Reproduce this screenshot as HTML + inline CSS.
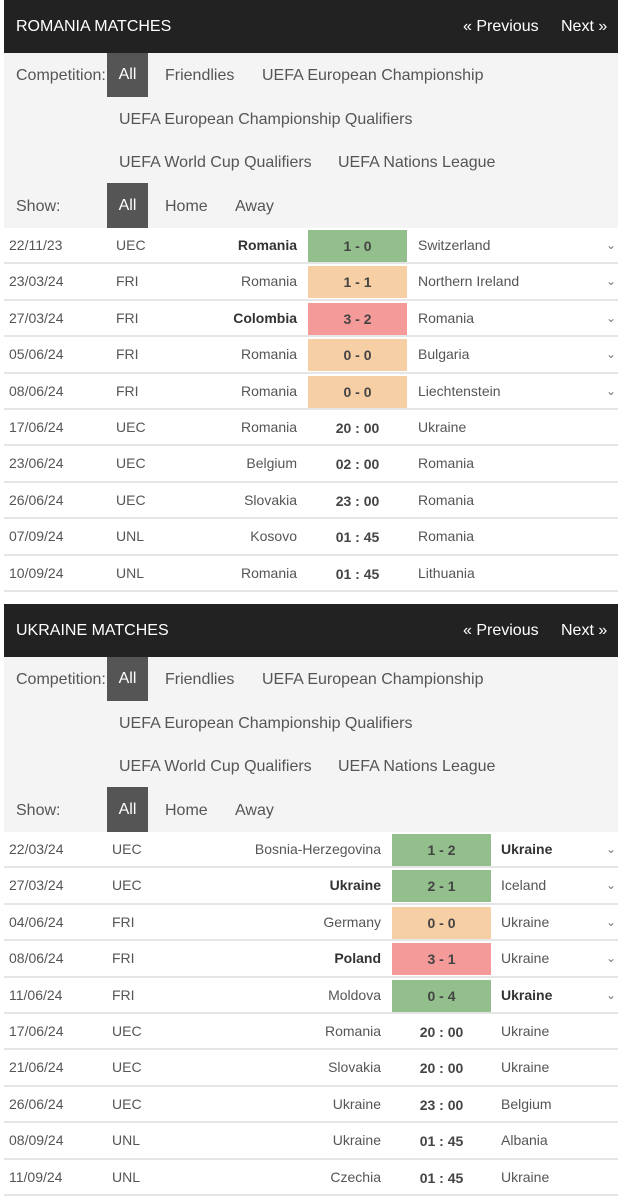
<!DOCTYPE html>
<html><head><meta charset="utf-8"><style>
*{box-sizing:border-box;margin:0;padding:0}
body{width:618px;height:1200px;background:#fff;font-family:"Liberation Sans",Arial,sans-serif;color:#555;position:relative;overflow:hidden}
.sec{position:absolute;left:4px;width:614px}
.hdr{position:absolute;left:0;top:0;width:614px;height:53px;background:#222;color:#fff;font-size:16px}
.hdr span{position:absolute;top:18px}
.flt{position:absolute;left:0;top:53px;width:614px;height:175px;background:#f4f4f4;font-size:16px;color:#555}
.flt span{position:absolute}
.btn{background:#555;color:#fff;width:41px;height:44px;text-align:center;line-height:44px}
.row{position:absolute;left:0;width:614px;height:36.4px;border-bottom:2px solid #e6e6e6;font-size:14px;line-height:35px}
.row span{position:absolute;top:0}
.sc{height:32px;top:2px!important;line-height:32px;text-align:center;font-weight:bold;color:#444}
.b{font-weight:bold;color:#333}
.chev{color:#777;font-size:12px}
</style></head><body>
<div id="s1" class="sec" style="top:0"></div>
<div id="s2" class="sec" style="top:604px"></div>
<script>
const romania=[["22/11/23","UEC","Romania","1 - 0","Switzerland","w","h"],["23/03/24","FRI","Romania","1 - 1","Northern Ireland","d",""],["27/03/24","FRI","Colombia","3 - 2","Romania","l","h"],["05/06/24","FRI","Romania","0 - 0","Bulgaria","d",""],["08/06/24","FRI","Romania","0 - 0","Liechtenstein","d",""],["17/06/24","UEC","Romania","20 : 00","Ukraine","",""],["23/06/24","UEC","Belgium","02 : 00","Romania","",""],["26/06/24","UEC","Slovakia","23 : 00","Romania","",""],["07/09/24","UNL","Kosovo","01 : 45","Romania","",""],["10/09/24","UNL","Romania","01 : 45","Lithuania","",""]];
const ukraine=[["22/03/24","UEC","Bosnia-Herzegovina","1 - 2","Ukraine","w","a"],["27/03/24","UEC","Ukraine","2 - 1","Iceland","w","h"],["04/06/24","FRI","Germany","0 - 0","Ukraine","d",""],["08/06/24","FRI","Poland","3 - 1","Ukraine","l","h"],["11/06/24","FRI","Moldova","0 - 4","Ukraine","w","a"],["17/06/24","UEC","Romania","20 : 00","Ukraine","",""],["21/06/24","UEC","Slovakia","20 : 00","Ukraine","",""],["26/06/24","UEC","Ukraine","23 : 00","Belgium","",""],["08/09/24","UNL","Ukraine","01 : 45","Albania","",""],["11/09/24","UNL","Czechia","01 : 45","Ukraine","",""]];
const col={w:"#93bf8c",d:"#f7cfa4",l:"#f49a98"};
function build(id,title,data,cx,hr,bx,ax){
 const s=document.getElementById(id);
 let h=`<div class="hdr"><span style="left:12px">${title}</span><span style="left:459px">« Previous</span><span style="left:557px">Next »</span></div>
 <div class="flt">
 <span style="left:12px;top:14px">Competition:</span>
 <span class="btn" style="left:103px;top:0">All</span>
 <span style="left:161px;top:14px">Friendlies</span>
 <span style="left:258px;top:14px">UEFA European Championship</span>
 <span style="left:115px;top:58px">UEFA European Championship Qualifiers</span>
 <span style="left:115px;top:101px">UEFA World Cup Qualifiers</span>
 <span style="left:334px;top:101px">UEFA Nations League</span>
 <span style="left:12px;top:145px">Show:</span>
 <span class="btn" style="left:103px;top:130px;height:45px;line-height:45px">All</span>
 <span style="left:161px;top:145px">Home</span>
 <span style="left:231px;top:145px">Away</span></div>`;
 data.forEach((r,i)=>{
  const t=228+i*36.4;
  const bg=r[5]?`background:${col[r[5]]};`:"";
  h+=`<div class="row" style="top:${t}px">
  <span style="left:5px">${r[0]}</span>
  <span style="left:${cx}px">${r[1]}</span>
  <span class="${r[6]=='h'?'b':''}" style="right:${614-hr}px">${r[2]}</span>
  <span class="sc" style="left:${bx}px;width:99px;${bg}">${r[3]}</span>
  <span class="${r[6]=='a'?'b':''}" style="left:${ax}px">${r[4]}</span>
  ${r[5]?'<span class="chev" style="left:602px">&#8964;</span>':''}</div>`;
 });
 s.innerHTML=h;
}
build("s1","ROMANIA MATCHES",romania,112,293,304,414);
build("s2","UKRAINE MATCHES",ukraine,108,377,388,497);
</script>
</body></html>
